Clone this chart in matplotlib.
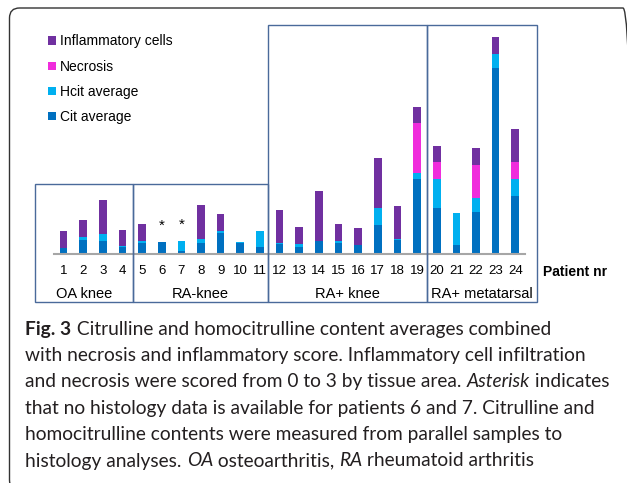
import numpy as np
import matplotlib
matplotlib.use("Agg")
import matplotlib.pyplot as plt
from matplotlib.patches import Rectangle, FancyBboxPatch

# Patient numbers and stacked values (score units: inflammation/necrosis 0-3)
patients = list(range(1, 25))
cit_avg = [0.36, 0.83, 0.77, 0.42, 0.69, 0.72, 0.18, 0.66, 1.29, 0.69, 0.42, 0.60,
           0.44, 0.77, 0.68, 0.52, 1.77, 0.84, 4.54, 2.79, 0.56, 2.55, 11.19, 3.51]
hcit_avg = [0.03, 0.20, 0.46, 0.04, 0.10, 0.00, 0.60, 0.27, 0.10, 0.04, 0.95, 0.08,
            0.16, 0.04, 0.10, 0.02, 0.99, 0.08, 0.34, 1.73, 1.89, 0.84, 0.88, 1.02]
necrosis = [0, 0, 0, 0, 0, 0, 0, 0, 0, 0, 0, 0,
            0, 0, 0, 0, 0, 0, 3, 1, 0, 2, 0, 1]
inflammatory = [1, 1, 2, 1, 1, 0, 0, 2, 1, 0, 0, 2,
                1, 3, 1, 1, 3, 2, 1, 1, 0, 1, 1, 2]
no_histology = [6, 7]

groups = ["OA knee", "RA-knee", "RA+ knee", "RA+ metatarsal"]

W, H = 627, 483
fig = plt.figure(figsize=(W / 100, H / 100), dpi=100)
plt.rcParams['font.family'] = ['Liberation Sans', 'DejaVu Sans']


def fx(px):
    return px / W


def fy(py):
    return 1 - py / H


# axes placed in pixel coords of the reference
ax_l, ax_r, ax_b, ax_t = 53.7, 525.1, 254, 21.6
ax = fig.add_axes([fx(ax_l), fy(ax_b), fx(ax_r - ax_l), (ax_b - ax_t) / H])
ax.patch.set_alpha(0)

colors = {"cit": "#0070C0", "hcit": "#00B0F0", "nec": "#F02CDC", "infl": "#7030A0"}
x = np.array(patients)
w = 0.39
cit = np.array(cit_avg)
hcit = np.array(hcit_avg)
nec = np.array(necrosis, dtype=float)
inf = np.array(inflammatory, dtype=float)

b1 = ax.bar(x, cit, w, color=colors["cit"], label="Cit average")
b2 = ax.bar(x, hcit, w, bottom=cit, color=colors["hcit"], label="Hcit average")
b3 = ax.bar(x, nec, w, bottom=cit + hcit, color=colors["nec"], label="Necrosis")
b4 = ax.bar(x, inf, w, bottom=cit + hcit + nec, color=colors["infl"],
            label="Inflammatory cells")

total = cit + hcit + nec + inf
for p in no_histology:
    ax.annotate("*", xy=(p, total[p - 1]), xytext=(0, 9), textcoords="offset points",
                ha="center", va="baseline", fontsize=11)

ax.set_xlim(0.5, 24.5)
ax.set_ylim(0, 14)
ax.set_yticks([])
ax.set_xticks(x)
ax.set_xticklabels([str(p) for p in patients], fontsize=9.5)
ax.tick_params(axis="x", length=0, pad=8)
for s in ["top", "left", "right"]:
    ax.spines[s].set_visible(False)
ax.spines["bottom"].set_color("#A6A6A6")
ax.spines["bottom"].set_linewidth(1.5)

leg = ax.legend(handles=[b4, b3, b2, b1], loc="upper left",
                bbox_to_anchor=(fx(48.3), fy(34.5)), bbox_transform=fig.transFigure,
                frameon=False, fontsize=10, handlelength=0.55, handleheight=0.55,
                handletextpad=0.3, labelspacing=0.8, borderpad=0, borderaxespad=0)

fig.text(fx(543), fy(272), "Patient nr", fontsize=10, fontweight="bold",
         ha="left", va="center")

# group boxes
box_edges = [35, 133, 268, 427, 537]
box_tops = [184, 184, 25, 25]
box_bottom = 302
for i, name in enumerate(groups):
    x0, x1 = box_edges[i], box_edges[i + 1]
    fig.patches.append(Rectangle((fx(x0), fy(box_bottom)), fx(x1 - x0),
                                 (box_bottom - box_tops[i]) / H, transform=fig.transFigure,
                                 fill=False, edgecolor="#4A6A9A", linewidth=1.0))
    fig.text(fx((x0 + x1) / 2), fy(294.5), name, fontsize=10.5, ha="center", va="center")

# outer rounded frame
fig.patches.append(FancyBboxPatch((fx(9.5), fy(490)), fx(633 - 9.5), (490 - 8) / H,
                                  boxstyle="round,pad=0,rounding_size=0.016",
                                  transform=fig.transFigure, fill=False,
                                  edgecolor="#333333", linewidth=1.0,
                                  mutation_aspect=W / H))

# caption with mixed styles
caption = [
    [("Fig. 3", "bold", "normal"), (" Citrulline and homocitrulline content averages combined", "normal", "normal")],
    [("with necrosis and inflammatory score. Inflammatory cell infiltration", "normal", "normal")],
    [("and necrosis were scored from 0 to 3 by tissue area. ", "normal", "normal"),
     ("Asterisk", "normal", "italic"), (" indicates", "normal", "normal")],
    [("that no histology data is available for patients 6 and 7. Citrulline and", "normal", "normal")],
    [("homocitrulline contents were measured from parallel samples to", "normal", "normal")],
    [("histology analyses. ", "normal", "normal"), ("OA", "normal", "italic"),
     (" osteoarthritis, ", "normal", "normal"), ("RA", "normal", "italic"),
     (" rheumatoid arthritis", "normal", "normal")],
]
cap_font = ["Lato", "DejaVu Sans"]
renderer = fig.canvas.get_renderer()


def draw_line(line, xp, yp, size, measure=False):
    width = 0
    for txt, wt, st in line:
        t = fig.text(fx(xp + width), fy(yp), txt, fontsize=size, family=cap_font,
                     fontweight=wt, fontstyle=st, ha="left", va="center", color="#231F20")
        width += t.get_window_extent(renderer).width
        if measure:
            t.remove()
    return width


# fit the font size to the total width of the reference's caption lines
measured = sum(draw_line(l, 0, 0, 10, measure=True) for l in caption)
cap_size = 10 * 3283 / measured

y0 = 329
for i, line in enumerate(caption):
    draw_line(line, 25.5, y0 + i * 26.4, cap_size)

fig.savefig("out.png", dpi=100)
